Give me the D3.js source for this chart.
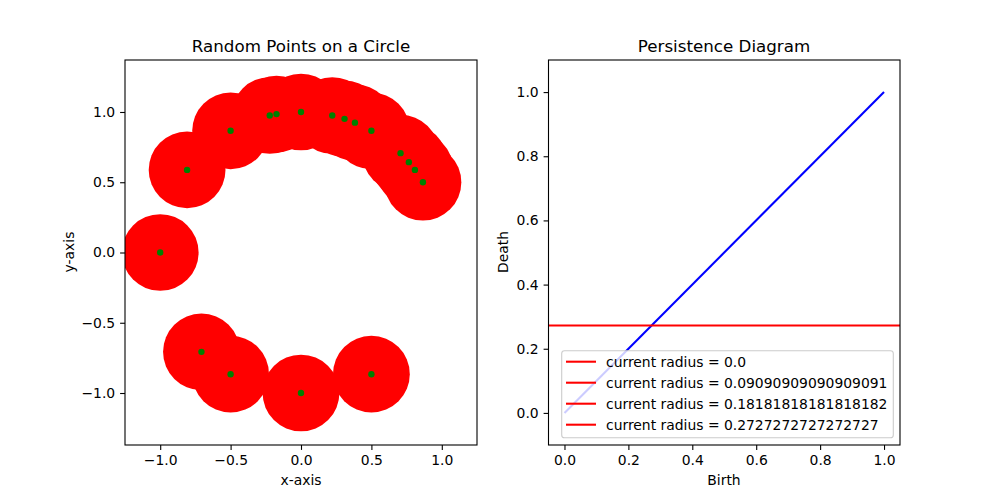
<!DOCTYPE html>
<html><head><meta charset="utf-8">
<script src="https://cdn.jsdelivr.net/npm/d3@7"></script>
<style>body{margin:0;background:#fff}svg{font-family:"DejaVu Sans",sans-serif}</style>
</head><body><svg id="c" width="1000" height="500"></svg>
<script>
const pointsX = [-1, -0.809, -0.5, -0.222, -0.174, 0, 0.222, 0.309, 0.383, 0.5, 0.707, 0.766, 0.809, 0.866, -0.707, -0.5, 0, 0.5];
const pointsY = [0, 0.588, 0.866, 0.975, 0.985, 1, 0.975, 0.951, 0.924, 0.866, 0.707, 0.643, 0.588, 0.5, -0.707, -0.866, -1, -0.866];
const radii = [0.0, 0.09090909090909091, 0.18181818181818182, 0.2727272727272727];
const radiusLabels = ["0.0", "0.09090909090909091", "0.18181818181818182", "0.2727272727272727"];
const currentRadius = radii[radii.length - 1];
const diagBirth = [0, 1];
const diagDeath = [0, 1];
const leftTicks = [-1.0, -0.5, 0.0, 0.5, 1.0];
const rightTicks = [0.0, 0.2, 0.4, 0.6, 0.8, 1.0];

const svg = d3.select("#c");
const fmt = d3.format(".1f");
const FS = 13.9;

function frame(g, x, y, xt, yt) {
  const ax = g.append("g").attr("transform", `translate(0,${y.range()[0]})`)
    .call(d3.axisBottom(x).tickValues(xt).tickFormat(fmt).tickSize(4.9).tickPadding(4.9).tickSizeOuter(0));
  const ay = g.append("g").attr("transform", `translate(${x.range()[0]},0)`)
    .call(d3.axisLeft(y).tickValues(yt).tickFormat(fmt).tickSize(4.9).tickPadding(4.9).tickSizeOuter(0));
  [ax, ay].forEach(a => {
    a.select(".domain").remove();
    a.selectAll("text").attr("font-size", FS).attr("font-family", "DejaVu Sans").attr("fill", "#000");
    a.selectAll("line").attr("stroke", "#000").attr("stroke-width", 1.1);
  });
  g.append("rect").attr("x", x.range()[0]).attr("y", y.range()[1])
    .attr("width", x.range()[1] - x.range()[0]).attr("height", y.range()[0] - y.range()[1])
    .attr("fill", "none").attr("stroke", "#000").attr("stroke-width", 1.1);
}

// Left plot
const xL = d3.scaleLinear([-1.25, 1.25], [125, 477]);
const yL = d3.scaleLinear([-1.37, 1.37], [445, 60]);
const gL = svg.append("g");
svg.append("clipPath").attr("id", "clipL").append("rect")
  .attr("x", 125).attr("y", 60).attr("width", 352).attr("height", 385);
const pl = gL.append("g").attr("clip-path", "url(#clipL)");
const rpx = xL(currentRadius) - xL(0);
const rpy = yL(0) - yL(currentRadius);
pl.selectAll("ellipse").data(pointsX).join("ellipse")
  .attr("cx", (d) => xL(d)).attr("cy", (d, i) => yL(pointsY[i]))
  .attr("rx", rpx).attr("ry", rpy).attr("fill", "#ff0000");
pl.selectAll("circle").data(pointsX).join("circle")
  .attr("cx", (d) => xL(d)).attr("cy", (d, i) => yL(pointsY[i]))
  .attr("r", 3.2).attr("fill", "#008000");
frame(gL, xL, yL, leftTicks, leftTicks);
gL.append("text").attr("x", 301).attr("y", 51.7).attr("text-anchor", "middle").attr("font-size", 16.7).text("Random Points on a Circle");
gL.append("text").attr("x", 301).attr("y", 485).attr("text-anchor", "middle").attr("font-size", FS).text("x-axis");
gL.append("text").attr("transform", "translate(74,252) rotate(-90)").attr("text-anchor", "middle").attr("font-size", FS).text("y-axis");

// Right plot
const xR = d3.scaleLinear([-0.05, 1.05], [548.5, 900]);
const yR = d3.scaleLinear([-0.1, 1.1], [445, 60]);
const gR = svg.append("g");
gR.append("path").datum(diagBirth.map((b, i) => [b, diagDeath[i]]))
  .attr("d", d3.line().x(d => xR(d[0])).y(d => yR(d[1])))
  .attr("stroke", "#0000ff").attr("stroke-width", 2.08).attr("fill", "none");
gR.append("line").attr("x1", xR.range()[0]).attr("x2", xR.range()[1])
  .attr("y1", yR(currentRadius)).attr("y2", yR(currentRadius))
  .attr("stroke", "#ff0000").attr("stroke-width", 2.08);
frame(gR, xR, yR, rightTicks, rightTicks);
gR.append("text").attr("x", 724).attr("y", 51.7).attr("text-anchor", "middle").attr("font-size", 16.7).text("Persistence Diagram");
gR.append("text").attr("x", 724).attr("y", 485).attr("text-anchor", "middle").attr("font-size", FS).text("Birth");
gR.append("text").attr("transform", "translate(508,252) rotate(-90)").attr("text-anchor", "middle").attr("font-size", FS).text("Death");

// Legend
const lg = gR.append("g");
lg.append("rect").attr("x", 561.7).attr("y", 350.7).attr("width", 331.6).attr("height", 87)
  .attr("rx", 2.8).attr("fill", "#fff").attr("fill-opacity", 0.8).attr("stroke", "#cccccc").attr("stroke-width", 1.1);
const rows = lg.selectAll("g.row").data(radii).join("g").attr("class", "row")
  .attr("transform", (d, i) => `translate(0,${361.7 + i * 21})`);
rows.append("line").attr("x1", 566).attr("x2", 596).attr("y1", 0).attr("y2", 0)
  .attr("stroke", "#ff0000").attr("stroke-width", 2.08);
rows.append("text").attr("x", 606).attr("y", 0).attr("dy", "0.35em").attr("font-size", FS)
  .text((d, i) => "current radius = " + radiusLabels[i]);
</script></body></html>
